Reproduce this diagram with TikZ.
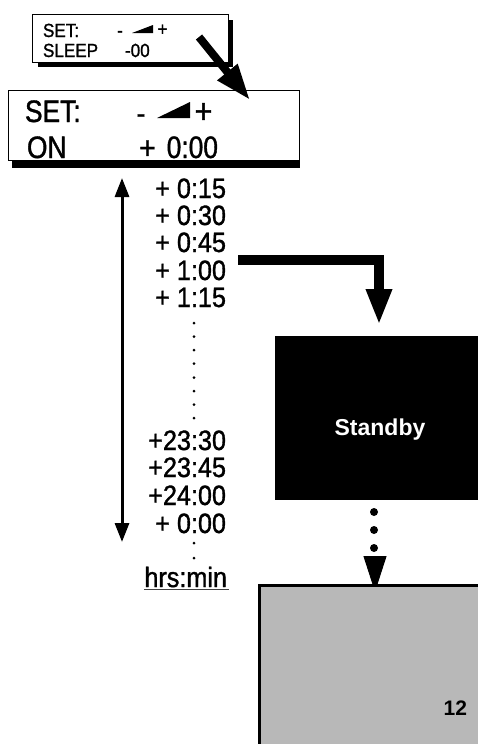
\documentclass[tikz,border=0pt]{standalone}
\usepackage{fontspec}
\setmainfont{Liberation Sans}
\newfontfamily\narrowfont[FakeStretch=0.9,FakeBold=1.2]{Liberation Sans}
\newfontfamily\bignarrowfont[FakeStretch=0.85,FakeBold=1.2]{Liberation Sans}
\usetikzlibrary{arrows.meta}
\begin{document}
\begin{tikzpicture}[x=1pt,y=-1pt,
  lbl/.style={inner sep=0pt, outer sep=0pt},
  small/.style={lbl, font=\narrowfont\fontsize{19}{19}\selectfont},
  big/.style={lbl, font=\bignarrowfont\fontsize{31}{31}\selectfont},
  tl/.style={lbl, anchor=base east, font=\narrowfont\fontsize{28}{28}\selectfont},
  panel/.style={draw, line width=1pt, fill=white, inner sep=0pt, anchor=north west},
  fatarrow/.style={line width=#1, line join=miter, -{Triangle[length=36pt,width=24pt]}},
  dot/.style={circle, fill=black, inner sep=0pt, minimum size=#1}
]
\useasboundingbox (0,0) rectangle (477,744);

% ---------- small SLEEP display ----------
\fill (38,62) rectangle (233,67);
\fill (228,20) rectangle (233,67);
\node[panel, minimum width=196pt, minimum height=48pt] (sleepbox) at (32,14) {};
\node[small, anchor=base west] (s1) at (43,37) {SET:};
\node[small, anchor=base west] (s2) at (43,57) {SLEEP};
\node[small, anchor=base west] (s3) at (125,57) {-00};
\node[small, anchor=center] (sminus) at (120,34) {-};
\fill (132,33) -- (153,33) -- (153,25) -- cycle;
\node[small, anchor=center] (splus) at (162.5,30) {+};

% ---------- large ON display ----------
\fill (12,160) rectangle (300,168);
\node[panel, minimum width=291pt, minimum height=70pt] (onbox) at (8,90) {};
\node[big, anchor=base west] (b1) at (25,122) {SET:};
\node[big, anchor=base west] (b2) at (27,158) {ON};
\node[big, anchor=center] (bminus) at (141,119) {-};
\fill (157,118) -- (190,118) -- (190,102) -- cycle;
\node[lbl, anchor=center, font=\narrowfont\fontsize{34}{34}\selectfont] (bplus) at (203.5,113) {+};
\node[lbl, anchor=center, font=\narrowfont\fontsize{32}{32}\selectfont] (bplus2) at (147.5,149.5) {+};
\node[big, anchor=base east] (b3) at (218,158) {0:00};

% ---------- diagonal arrow ----------
\coordinate (d1) at (199,37);
\coordinate (d2) at (250,100);
\draw[fatarrow=8pt] (d1) -- (d2);

% ---------- time list ----------
\node[tl] (t1) at (226,198) {+ 0:15};
\node[tl] (t2) at (226,225) {+ 0:30};
\node[tl] (t3) at (226,252) {+ 0:45};
\node[tl] (t4) at (226,280) {+ 1:00};
\node[tl] (t5) at (226,307) {+ 1:15};
\foreach \yy in {323,336.5,350,363.5,377.5,391,404.5,418}
  \node[dot=3pt] at (194,\yy) {};
\node[tl] (t6) at (226,450) {+23:30};
\node[tl] (t7) at (226,477) {+23:45};
\node[tl] (t8) at (226,505) {+24:00};
\node[tl] (t9) at (226,533) {+ 0:00};
\node[dot=3pt] at (194,543) {};
\node[dot=3pt] at (194,558) {};
\node[tl] (unit) at (227,587) {hrs:min};
\draw[line width=0.8pt, black!75] (unit.base west) ++(0,2.5) -- ++(85,0);

% ---------- vertical double arrow ----------
\coordinate (va) at (122,178);
\coordinate (vb) at (122,542);
\draw[line width=3pt, {Triangle[length=19pt,width=14pt]}-{Triangle[length=19pt,width=14pt]}] (va) -- (vb);

% ---------- elbow arrow ----------
\coordinate (e1) at (238,260);
\coordinate (e2) at (379,325);
\draw[fatarrow=10pt] (e1) -| (e2);

% ---------- Standby box ----------
\node[fill=black, inner sep=0pt, anchor=north west, minimum width=215pt, minimum height=164pt] (standby) at (275,336) {};
\node[lbl, text=white, font=\bfseries\fontsize{23}{23}\selectfont] (stxt) at (380,430) {Standby};

% ---------- dotted arrow ----------
\node[dot=8pt] (p1) at (374,512) {};
\node[dot=8pt] (p2) at (374,530) {};
\node[dot=8pt] (p3) at (374,548) {};
\coordinate (h1) at (375,556);
\coordinate (h2) at (375,592);
\draw[line width=1pt, -{Triangle[length=36pt,width=23pt]}] (h1) -- (h2);

% ---------- grey display ----------
\node[draw, line width=3pt, fill=black!28, inner sep=0pt, anchor=north west, minimum width=240pt, minimum height=180pt] (grey) at (258,584) {};
\node[lbl, anchor=base east, font=\bfseries\fontsize{21}{21}\selectfont] (num) at (467,715) {12};
\end{tikzpicture}
\end{document}
